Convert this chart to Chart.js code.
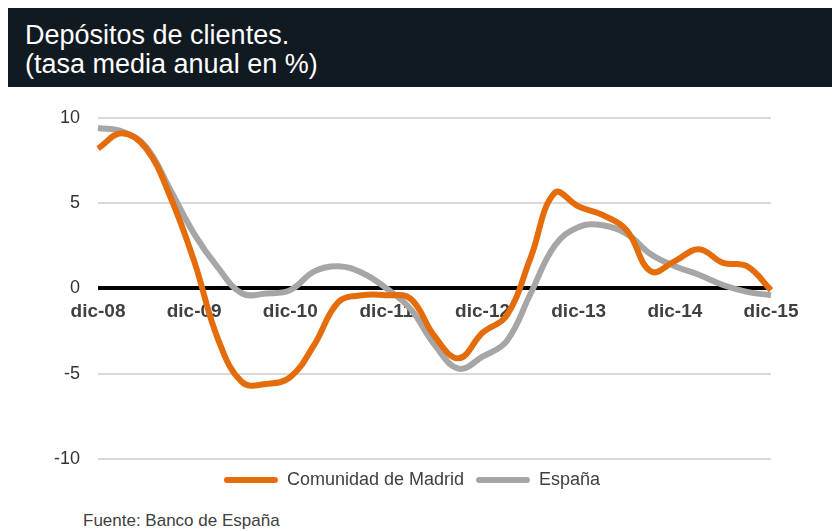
<!DOCTYPE html>
<html>
<head>
<meta charset="utf-8">
<script src="https://cdn.jsdelivr.net/npm/chart.js@4/dist/chart.umd.min.js"></script>
<style>
  body { margin: 0; background: #fff; font-family: "Liberation Sans", Arial, sans-serif; }
  #band { position: absolute; left: 8px; top: 8px; width: 824px; height: 79px; background: #111921; }
  .title { position: absolute; left: 25px; color: #fff; font-size: 27px; line-height: 27px; white-space: nowrap; }
  #source { position: absolute; left: 83px; top: 512px; font-size: 17px; line-height: 17px; color: #404040; }
  #wrap { position: absolute; left: 0; top: 89px; width: 832px; height: 421px; }
</style>
</head>
<body>
<div id="band"></div>
<div class="title" style="top:22px">Depósitos de clientes.</div>
<div class="title" style="top:51px">(tasa media anual en %)</div>
<div id="wrap"><canvas id="chart"></canvas></div>
<div id="source">Fuente: Banco de España</div>
<script>
// trimestral, dic-08 .. dic-15
const quarters = [
    "dic-08", "mar-09", "jun-09", "sep-09",
    "dic-09", "mar-10", "jun-10", "sep-10",
    "dic-10", "mar-11", "jun-11", "sep-11",
    "dic-11", "mar-12", "jun-12", "sep-12",
    "dic-12", "mar-13", "jun-13", "sep-13",
    "dic-13", "mar-14", "jun-14", "sep-14",
    "dic-14", "mar-15", "jun-15", "sep-15",
    "dic-15"
];
const madrid = [
    8.2, 9.1, 8.2, 5.4,
    1.6, -3.0, -5.5, -5.6,
    -5.2, -3.3, -0.8, -0.4,
    -0.4, -0.6, -2.8, -4.1,
    -2.6, -1.6, 1.8, 5.6,
    4.8, 4.3, 3.4, 1.0,
    1.6, 2.3, 1.5, 1.3,
    -0.1
];
const espana = [
    9.4, 9.2, 8.3, 5.8,
    3.2, 1.2, -0.3, -0.3,
    -0.1, 1.0, 1.3, 0.9,
    0.0, -1.2, -3.3, -4.7,
    -4.0, -3.1, -0.3, 2.5,
    3.6, 3.7, 3.2, 2.0,
    1.3, 0.8, 0.2, -0.2,
    -0.4
];
const yTicks = [-10, -5, 0, 5, 10];

const ORANGE = "#e46c0a";
const GREY = "#a6a6a6";

document.addEventListener("DOMContentLoaded", function () {
    const ctx = document.getElementById("chart").getContext("2d");

    new Chart(ctx, {
        type: "line",
        data: {
            labels: quarters,
            datasets: [{
                label: "Comunidad de Madrid",
                data: madrid,
                borderColor: ORANGE,
                backgroundColor: ORANGE,
                borderWidth: 6,
                pointRadius: 0,
                tension: 0.4,
                order: 1
            }, {
                label: "España",
                data: espana,
                borderColor: GREY,
                backgroundColor: GREY,
                borderWidth: 6,
                pointRadius: 0,
                tension: 0.4,
                order: 2
            }]
        },
        options: {
            responsive: true,
            maintainAspectRatio: false,
            animation: false,
            layout: { padding: { top: 17, left: 0, right: 8, bottom: 11 } },
            scales: {
                x: {
                    position: { y: 0 },
                    grid: { display: false, drawTicks: false },
                    border: { display: false },
                    afterFit: function (s) { s.height = 0; },
                    ticks: {
                        autoSkip: false,
                        maxRotation: 0,
                        padding: 12,
                        color: "#404040",
                        font: { family: "Liberation Sans", size: 19, weight: "bold" },
                        callback: function (v) {
                            const l = this.getLabelForValue(v);
                            return l.startsWith("dic") ? l : "";
                        }
                    }
                },
                y: {
                    min: -10,
                    max: 10,
                    afterFit: function (s) { s.width = 98; },
                    afterBuildTicks: function (s) { s.ticks = yTicks.map(v => ({ value: v })); },
                    border: { display: false },
                    grid: {
                        drawTicks: false,
                        color: c => c.tick && c.tick.value === 0 ? "#000" : "#d9d9d9",
                        lineWidth: c => c.tick && c.tick.value === 0 ? 4 : 2
                    },
                    ticks: {
                        padding: 18,
                        color: "#333",
                        font: { family: "Liberation Sans", size: 18 }
                    }
                },
                y2: {
                    position: "right",
                    grid: { display: false },
                    border: { display: false },
                    ticks: { display: false },
                    afterFit: function (s) { s.width = 53; }
                }
            },
            plugins: {
                legend: {
                    position: "bottom",
                    labels: {
                        boxWidth: 54,
                        boxHeight: 6,
                        padding: 12,
                        color: "#404040",
                        useBorderRadius: true,
                        borderRadius: 3,
                        font: { family: "Liberation Sans", size: 18 },
                        generateLabels: function (chart) {
                            return Chart.defaults.plugins.legend.labels.generateLabels(chart).map(function (l) {
                                l.lineWidth = 0;
                                l.fillStyle = l.strokeStyle;
                                return l;
                            });
                        }
                    }
                },
                tooltip: { enabled: false }
            }
        }
    });
});
</script>
</body>
</html>
